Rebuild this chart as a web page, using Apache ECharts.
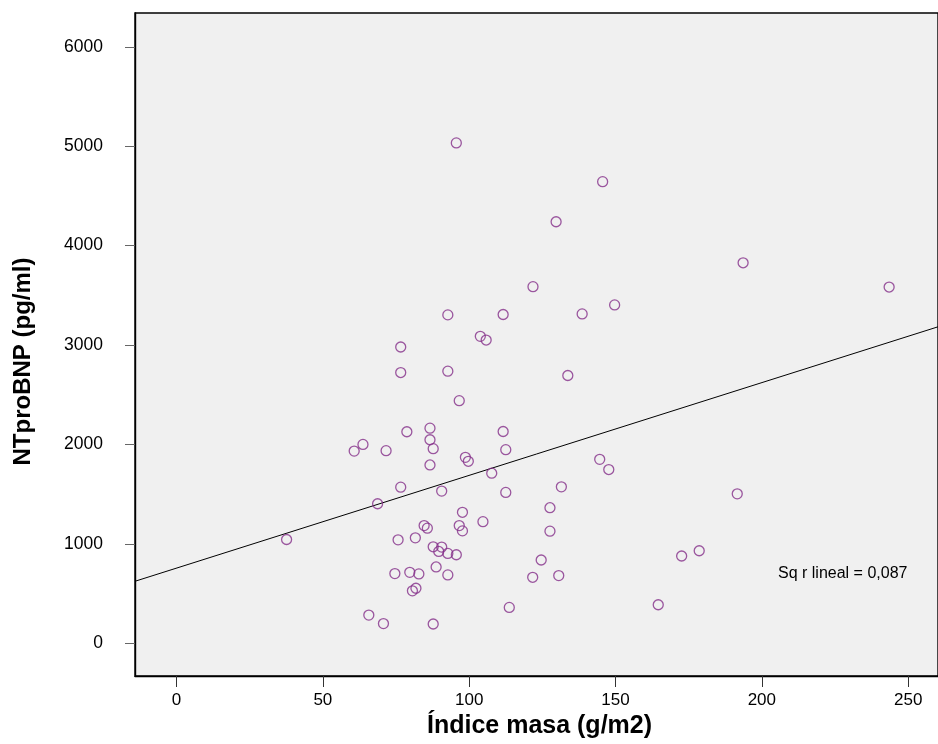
<!DOCTYPE html>
<html>
<head>
<meta charset="utf-8">
<script src="https://cdn.jsdelivr.net/npm/echarts@6/dist/echarts.min.js"></script>
<style>
html,body{margin:0;padding:0;background:#fff;}
#chart{width:938px;height:744px;}
</style>
</head>
<body>
<div id="chart"></div>
<script>
// Índice masa (g/m2)
const indiceMasa = [
  76.6, 92.7, 133.7, 96.6, 78.7, 86.6, 86.6, 87.7, 111.6, 63.7,
  60.7, 71.6, 112.5, 98.7, 99.7, 86.6, 107.7, 144.6, 76.6, 90.6,
  112.5, 131.5, 68.7, 127.6, 37.6, 97.7, 84.6, 85.7, 96.6, 97.7,
  104.7, 127.6, 75.7, 81.6, 87.7, 90.6, 89.6, 92.7, 95.6, 124.6,
  74.6, 79.7, 82.8, 88.7, 92.7, 121.7, 130.6, 81.8, 80.6, 65.7,
  70.7, 87.7, 113.7, 145.6, 129.7, 193.6, 243.5, 149.7, 138.6, 147.7,
  191.6, 172.6, 178.6, 164.6, 95.6, 121.8, 92.7, 111.6, 103.8, 105.8,
  76.6
];
// NTproBNP (pg/ml)
const ntProBNP = [
  2723, 2737, 2693, 2440, 2127, 2163, 2047, 1957, 2130, 2000,
  1933, 1937, 1947, 1870, 1830, 1793, 1710, 1850, 1570, 1530,
  1517, 1573, 1403, 1363, 1043, 1317, 1183, 1157, 1183, 1130,
  1223, 1127, 1040, 1060, 970, 967, 923, 903, 890, 837,
  700, 713, 697, 767, 687, 663, 680, 553, 527, 283,
  197, 193, 360, 4643, 4240, 3827, 3583, 3403, 3313, 1747,
  1503, 877, 930, 387, 5033, 3587, 3303, 3307, 3087, 3050,
  2980
];
// Linear fit line endpoints
const fitX = [-14.2, 260.2];
const fitY = [623, 3183];
const xTicks = [0, 50, 100, 150, 200, 250];
const yTicks = [0, 1000, 2000, 3000, 4000, 5000, 6000];
const rSqText = 'Sq r lineal = 0,087';

const points = indiceMasa.map((x, i) => [x, ntProBNP[i]]);
const fitPoints = fitX.map((x, i) => [x, fitY[i]]);

const chart = echarts.init(document.getElementById('chart'), null, {renderer: 'canvas'});
const font = 'Liberation Sans, Arial, sans-serif';
chart.setOption({
  animation: false,
  grid: {
    left: 135, right: -1, top: 13, bottom: 64,
    show: true, backgroundColor: '#f0f0f0', borderColor: '#000', borderWidth: 1.4
  },
  xAxis: {
    type: 'value', min: -14.2, max: 260.2,
    name: 'Índice masa (g/m2)', nameLocation: 'middle', nameGap: 38,
    nameTextStyle: {fontFamily: font, fontSize: 25, fontWeight: 'bold', color: '#000', padding: [0, 0, 0, 6]},
    axisLine: {show: true, onZero: false, lineStyle: {color: '#000', width: 1.4}},
    axisTick: {show: true, length: 11, customValues: xTicks, lineStyle: {color: '#333'}},
    axisLabel: {customValues: xTicks, margin: 16, fontFamily: font, fontSize: 17, color: '#000',
      formatter: v => String(v)},
    splitLine: {show: false}
  },
  yAxis: {
    type: 'value', min: -330, max: 6340,
    name: 'NTproBNP (pg/ml)', nameLocation: 'middle', nameGap: 100,
    nameTextStyle: {fontFamily: font, fontSize: 24, fontWeight: 'bold', color: '#000', padding: [0, 34, 0, 0]},
    axisLine: {show: true, onZero: false, lineStyle: {color: '#000', width: 1.4}},
    axisTick: {show: true, length: 10, customValues: yTicks, lineStyle: {color: '#666'}},
    axisLabel: {customValues: yTicks, margin: 32, fontFamily: font, fontSize: 17.5, color: '#000',
      formatter: v => String(v)},
    splitLine: {show: false}
  },
  series: [
    {
      type: 'line', data: fitPoints, symbol: 'none', silent: true,
      lineStyle: {color: '#000', width: 1}, z: 2
    },
    {
      type: 'scatter', data: points, symbol: 'circle', symbolSize: 10,
      itemStyle: {color: 'rgba(0,0,0,0)', borderColor: '#84308a', borderWidth: 1.3}, z: 3
    }
  ],
  graphic: [
    {type: 'text', left: 778, top: 566, style: {text: rSqText, fontFamily: font, fontSize: 16, fill: '#000'}}
  ]
});
</script>
</body>
</html>
